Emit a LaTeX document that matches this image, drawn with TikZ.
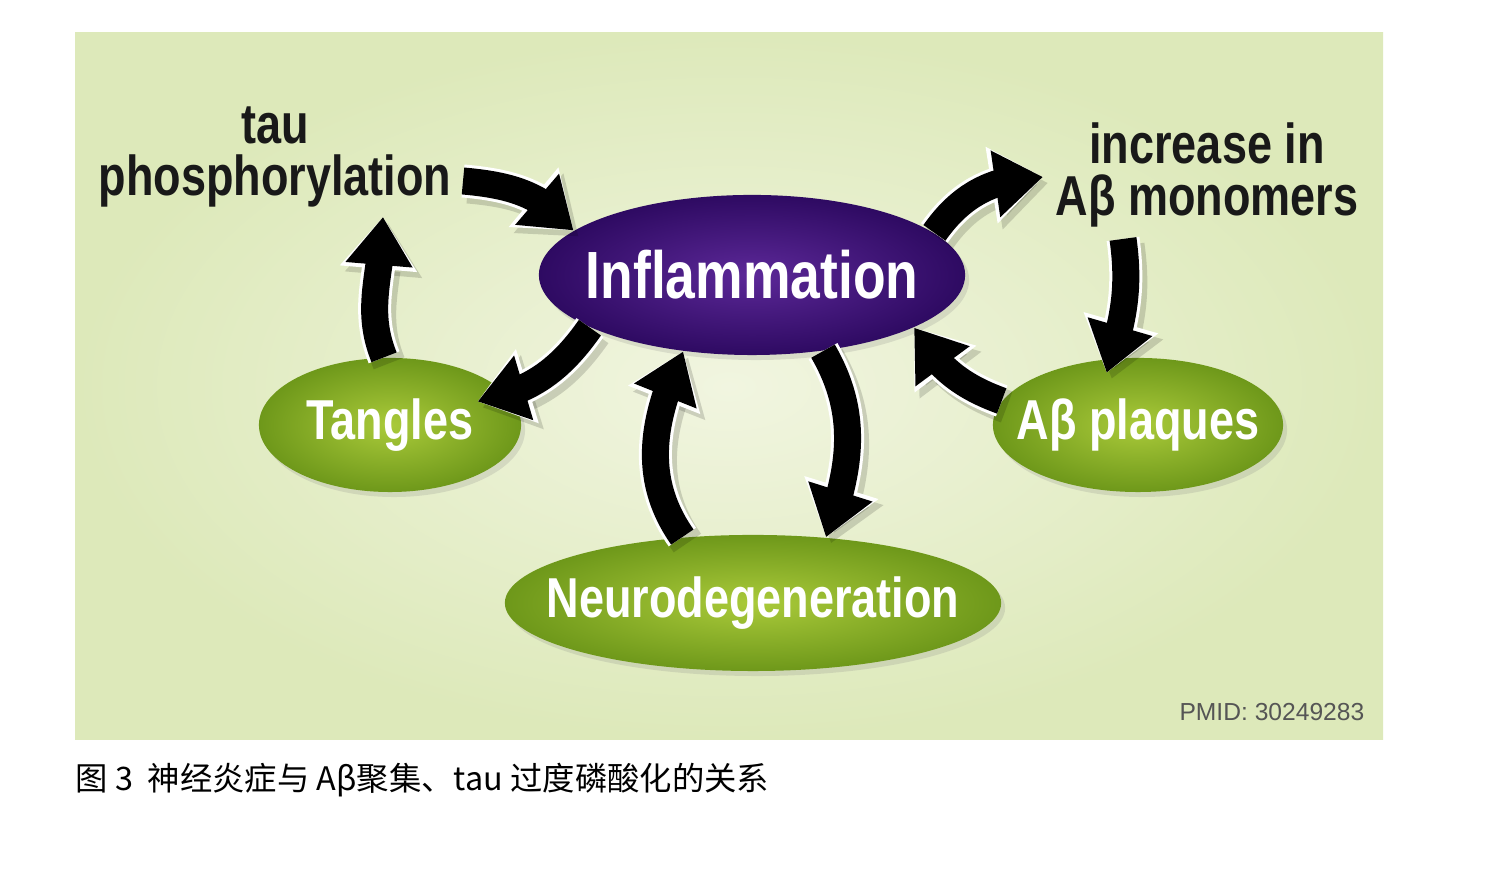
\documentclass[tikz,border=0pt]{standalone}
\usepackage{fontspec}
\usepackage{tikz}
\usetikzlibrary{positioning,arrows.meta,bending,calc,shapes.geometric,shadows}
\setmainfont{Liberation Sans}
\newfontfamily\condfont[FakeStretch=0.8]{Liberation Sans}
\newfontfamily\cjkfont{Noto Sans CJK SC}
\definecolor{panelin}{RGB}{241,245,224}
\definecolor{panelout}{RGB}{221,233,186}
\definecolor{purplein}{RGB}{92,40,152}
\definecolor{purpleout}{RGB}{46,10,98}
\definecolor{greenin}{RGB}{170,202,58}
\definecolor{greenout}{RGB}{110,152,26}
\definecolor{labelgray}{RGB}{85,85,85}

\tikzset{
  oval/.style={ellipse, inner sep=0pt, text=white,
    drop shadow={opacity=0.2, shadow xshift=0.04cm, shadow yshift=-0.05cm}},
  greenoval/.style={oval, inner color=greenin, outer color=greenout,
    font=\condfont\bfseries\fontsize{16}{18}\selectfont},
  purpleoval/.style={oval, inner color=purplein, outer color=purpleout,
    font=\condfont\bfseries\fontsize{19}{22}\selectfont},
  steplabel/.style={align=center, inner sep=0.07cm, text=black!90,
    font=\condfont\bfseries\fontsize{16}{14.8}\selectfont},
  fatarrow/.style={line width=0.27cm, draw=black, line join=round,
    -{Triangle[flex, length=0.48cm, width=0.64cm]},
    preaction={draw=black, opacity=0.15, line width=0.33cm, line join=round,
      -{Triangle[flex, length=0.52cm, width=0.74cm]},
      transform canvas={shift={(0.05cm,-0.06cm)}}},
    preaction={draw=white, line width=0.33cm, line join=round,
      -{Triangle[flex, length=0.52cm, width=0.74cm]}}},
}

\begin{document}
\begin{tikzpicture}[x=0.01cm, y=0.01cm]
  \useasboundingbox (0,0) rectangle (1490,874);
  \fill[white] (0,0) rectangle (1490,874);

  % background panel
  \shade[inner color=panelin, outer color=panelout] (75,134) rectangle (1383,841);

  % ovals
  \node[purpleoval, minimum width=4.26cm, minimum height=1.6cm] (infl) at (752,599)
    {\makebox[0pt]{Inflammation}};
  \node[greenoval, minimum width=2.62cm, minimum height=1.34cm] (tangles) at (390,449)
    {\makebox[0pt]{Tangles}};
  \node[greenoval, minimum width=2.9cm, minimum height=1.34cm] (plaques) at (1138,449)
    {\makebox[0pt]{Aβ plaques}};
  \node[greenoval, minimum width=4.96cm, minimum height=1.36cm] (neuro) at (753,271)
    {\makebox[0pt]{Neurodegeneration}};

  % free labels
  \node[steplabel] (tau) at (275,717) {tau\\phosphorylation};
  \node[steplabel] (mono) at (1207,699) {increase in\\Aβ monomers};

  % arrows
  \draw[fatarrow] ($(tau.east)+(4,-24)$) to[out=-5, in=130] (infl.166);
  \draw[fatarrow] (infl.13) to[out=55, in=180] ($(mono.west)+(-5,-2)$);
  \draw[fatarrow] ($(mono.south)+(-84,-4)$) to[out=-82, in=72]
    ($(plaques.center)!0.8!(plaques.121)$);
  \draw[fatarrow] (plaques.170) to[out=160, in=-60] (infl.-18);
  \draw[fatarrow] (infl.198) to[out=-125, in=10]
    ($(tangles.center)!0.75!(tangles.15)$);
  \draw[fatarrow] (tangles.95) to[out=112, in=-90] ($(tau.south)+(108,-2)$);
  \draw[fatarrow] (neuro.137) to[out=125, in=-115] (infl.228);
  \draw[fatarrow] (infl.-47) to[out=-60, in=70] (neuro.42);

  % source and caption
  \node[font=\fontsize{7}{8}\selectfont, text=labelgray, anchor=east, inner sep=0pt]
    (pmid) at (1365,162) {PMID: 30249283};
  \node[font=\cjkfont\fontsize{9.2}{11}\selectfont, anchor=west, inner sep=0pt]
    (caption) at (75,94) {图 3\ \ 神经炎症与 Aβ聚集、tau 过度磷酸化的关系};
\end{tikzpicture}
\end{document}
